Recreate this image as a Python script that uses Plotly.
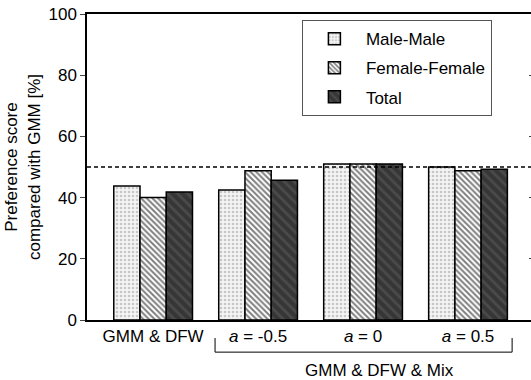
import plotly.graph_objects as go

groups = ["GMM & DFW", "<i>a</i> = -0.5", "<i>a</i> = 0", "<i>a</i> = 0.5"]
group_pos = [0, 1, 2, 3]
male_male = [43.8, 42.5, 51.0, 50.0]
female_female = [40.0, 48.8, 51.0, 48.8]
total = [41.8, 45.7, 51.0, 49.3]
y_ticks = [0, 20, 40, 60, 80, 100]
reference_level = 50
bracket_label = "GMM & DFW & Mix"

FONT = "Liberation Sans, Arial, sans-serif"
FS = 17

fig = go.Figure()
fig.add_trace(go.Bar(
    x=group_pos, y=male_male, name="Male-Male", legendgroup="mm",
    marker=dict(color="#f2f2f2", line=dict(color="black", width=1.5),
                pattern=dict(shape=".", fgcolor="#9a9a9a", bgcolor="#f4f4f4", size=4, solidity=0.35)),
))
fig.add_trace(go.Bar(
    x=group_pos, y=female_female, name="Female-Female", legendgroup="ff",
    marker=dict(color="white", line=dict(color="black", width=1.5),
                pattern=dict(shape="\\", fgcolor="#000000", bgcolor="white", size=4, solidity=0.5)),
))
fig.add_trace(go.Bar(
    x=group_pos, y=total, name="Total", legendgroup="tt",
    marker=dict(color="#3c3c3c", line=dict(color="black", width=1.5),
                pattern=dict(shape="\\", fgcolor="#5e5e5e", bgcolor="#363636", size=7, solidity=0.4)),
))

# right-side inward tick marks (no axis line)
fig.add_trace(go.Scatter(x=[None], y=[None], yaxis="y2", showlegend=False, hoverinfo="skip"))

fig.update_layout(
    width=531, height=380,
    margin=dict(l=87, r=0, t=14, b=60),
    paper_bgcolor="white", plot_bgcolor="white",
    barmode="group", bargap=0.25, bargroupgap=0,
    font=dict(family=FONT, size=FS, color="black"),
    showlegend=True,
    legend=dict(x=0.484, y=0.98, xanchor="left", yanchor="top",
                bordercolor="#555555", borderwidth=1, bgcolor="white",
                font=dict(family=FONT, size=FS), tracegroupgap=4,
                itemwidth=53, traceorder="grouped"),
    xaxis=dict(range=[-0.63, 3.6], tickvals=group_pos, ticktext=groups,
               showline=True, mirror=True, linecolor="black", linewidth=1.5,
               ticks="", showgrid=False, zeroline=False,
               tickfont=dict(family=FONT, size=FS)),
    yaxis=dict(range=[0, 100], tickvals=y_ticks, showline=True, linecolor="black",
               linewidth=1.5, ticks="outside", ticklen=5, tickwidth=1,
               showgrid=False, zeroline=False,
               tickfont=dict(family=FONT, size=FS),
               title=dict(text="Preference score<br>compared with GMM [%]",
                          font=dict(family=FONT, size=FS), standoff=4)),
    yaxis2=dict(range=[0, 100], tickvals=y_ticks, overlaying="y", side="right",
                showline=False, ticks="inside", ticklen=2, tickwidth=1,
                showticklabels=False, showgrid=False, zeroline=False),
)

# reference dashed line at 50 %
fig.add_shape(type="line", xref="paper", yref="y", x0=0, x1=1,
              y0=reference_level, y1=reference_level,
              line=dict(color="black", width=1.5, dash="4px,3px"))

# bracket under the three mixed groups
fig.add_shape(type="path", xref="x", yref="paper",
              path="M 0.59 -0.059 L 0.59 -0.105 L 3.42 -0.105 L 3.42 -0.059",
              line=dict(color="black", width=1))
fig.add_annotation(x=2.16, xref="x", y=-0.128, yref="paper", text=bracket_label,
                   showarrow=False, yanchor="top",
                   font=dict(family=FONT, size=FS))

fig.write_html("out.html")
